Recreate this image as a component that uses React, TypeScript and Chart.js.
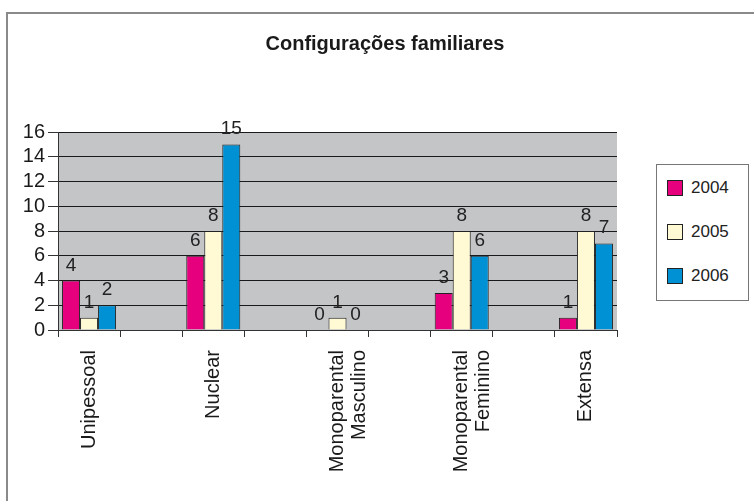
import React, { useEffect, useRef } from "react";
import { Chart, registerables } from "chart.js";

Chart.register(...registerables);

const FONT = '"Liberation Sans", Arial, Helvetica, sans-serif';

const chartTitle = "Configurações familiares";
const categories: (string | string[])[] = [
  "Unipessoal",
  "",
  "Nuclear",
  "",
  ["Monoparental", "Masculino"],
  "",
  ["Monoparental", "Feminino"],
  "",
  "Extensa",
];
const seriesNames = ["2004", "2005", "2006"];
const values2004 = [4, null, 6, null, 0, null, 3, null, 1];
const values2005 = [1, null, 8, null, 1, null, 8, null, 8];
const values2006 = [2, null, 15, null, 0, null, 6, null, 7];
const seriesValues = [values2004, values2005, values2006];
const seriesColors = ["#e6007e", "#fffad4", "#0090d4"];
const yMin = 0;
const yMax = 16;
const yStep = 2;

const plotBgPlugin = {
  id: "plotBg",
  beforeDraw(chart: any) {
    const { ctx, chartArea } = chart;
    ctx.save();
    ctx.fillStyle = "#c4c5c7";
    ctx.fillRect(chartArea.left, chartArea.top, chartArea.right - chartArea.left, chartArea.bottom - chartArea.top);
    ctx.restore();
  },
};

const valueLabelPlugin = {
  id: "valueLabels",
  afterDatasetsDraw(chart: any) {
    const ctx = chart.ctx;
    ctx.save();
    ctx.font = `19px ${FONT}`;
    ctx.fillStyle = "#222";
    ctx.textAlign = "center";
    ctx.textBaseline = "alphabetic";
    chart.data.datasets.forEach((ds: any, i: number) => {
      const meta = chart.getDatasetMeta(i);
      meta.data.forEach((el: any, j: number) => {
        const v = ds.data[j];
        if (v === null || v === undefined) return;
        ctx.fillText(String(v), el.x, el.y - 10);
      });
    });
    ctx.restore();
  },
};

export default function App() {
  const canvasRef = useRef<HTMLCanvasElement | null>(null);

  useEffect(() => {
    const prevMargin = document.body.style.margin;
    document.body.style.margin = "0";
    const canvas = canvasRef.current;
    if (!canvas) return;
    const chart = new Chart(canvas, {
      type: "bar",
      data: {
        labels: categories,
        datasets: seriesNames.map((name, i) => ({
          label: name,
          data: seriesValues[i],
          backgroundColor: seriesColors[i],
          borderColor: "#222",
          borderWidth: 1,
          categoryPercentage: 0.87,
          barPercentage: 1.0,
        })),
      },
      options: {
        animation: false,
        responsive: false,
        devicePixelRatio: 1,
        layout: { padding: { top: 132, right: 137, left: 0, bottom: 0 } },
        plugins: {
          legend: { display: false },
          title: { display: false },
          tooltip: { enabled: false },
        },
        scales: {
          x: {
            offset: true,
            afterFit(scale: any) {
              scale.height = 171;
            },
            grid: {
              display: true,
              drawOnChartArea: false,
              drawTicks: true,
              tickLength: 7,
              offset: true,
              tickColor: "#333",
            },
            border: { display: true, color: "#333", width: 1 },
            ticks: {
              autoSkip: false,
              maxRotation: 90,
              minRotation: 90,
              padding: 13,
              color: "#1a1a1a",
              font: { family: FONT, size: 20, lineHeight: 1.1 },
            },
          },
          y: {
            min: yMin,
            max: yMax,
            afterFit(scale: any) {
              scale.width = 58;
            },
            grid: {
              color: "#1a1a1a",
              lineWidth: 1,
              tickLength: 10,
              tickColor: "#333",
            },
            border: { display: true, color: "#333", width: 1 },
            ticks: {
              stepSize: yStep,
              autoSkip: false,
              padding: 3,
              color: "#1a1a1a",
              font: { family: FONT, size: 20 },
            },
          },
        },
      },
      plugins: [plotBgPlugin, valueLabelPlugin],
    });
    return () => {
      chart.destroy();
      document.body.style.margin = prevMargin;
    };
  }, []);

  return (
    <div
      style={{
        position: "fixed",
        left: 0,
        top: 0,
        width: 754,
        height: 501,
        overflow: "hidden",
        background: "#fff",
        fontFamily: FONT,
      }}
    >
      <div
        style={{
          position: "absolute",
          left: 6,
          top: 12,
          width: 800,
          height: 600,
          border: "2px solid #8a8a8a",
          boxSizing: "border-box",
        }}
      />
      <canvas ref={canvasRef} width={754} height={501} style={{ position: "absolute", left: 0, top: 0 }} />
      <div
        style={{
          position: "absolute",
          left: 0,
          width: 770,
          top: 31,
          textAlign: "center",
          fontWeight: "bold",
          fontSize: 20,
          color: "#1a1a1a",
          lineHeight: "24px",
        }}
      >
        {chartTitle}
      </div>
      <div
        style={{
          position: "absolute",
          left: 656,
          top: 164,
          width: 93,
          height: 137,
          border: "1.5px solid #777",
          boxSizing: "border-box",
          background: "#fff",
        }}
      >
        {seriesNames.map((name, i) => (
          <div
            key={name}
            style={{
              position: "absolute",
              left: 10,
              top: 13 + i * 44,
              height: 20,
              display: "flex",
              alignItems: "center",
            }}
          >
            <span
              style={{
                display: "inline-block",
                width: 14,
                height: 14,
                background: seriesColors[i],
                border: "1px solid #222",
              }}
            />
            <span style={{ marginLeft: 8, fontSize: 17, color: "#222" }}>{name}</span>
          </div>
        ))}
      </div>
    </div>
  );
}
